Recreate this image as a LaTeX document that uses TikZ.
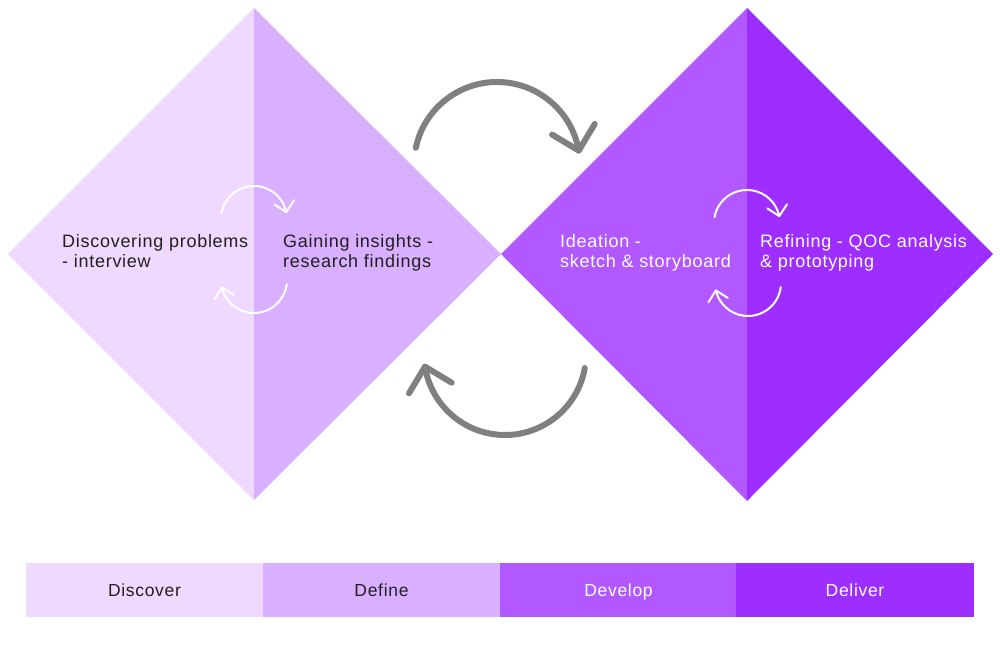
\documentclass[tikz,border=0pt]{standalone}
\usepackage{fontspec}
\setmainfont{Liberation Sans}[LetterSpace=4]
\definecolor{cdiscover}{HTML}{EFD9FF}
\definecolor{cdefine}{HTML}{D9B0FF}
\definecolor{cdevelop}{HTML}{B158FF}
\definecolor{cdeliver}{HTML}{9D2EFF}
\definecolor{ink}{HTML}{231F20}
\definecolor{arrowgrey}{HTML}{808080}
\begin{document}
\begin{tikzpicture}[x=1pt,y=1pt,
  lbl/.style={font=\fontsize{18}{20}\selectfont, align=left, inner sep=0pt, anchor=base west},
  barseg/.style={minimum width=237.5pt, minimum height=54pt, inner sep=0pt, text height=12.4pt, text depth=0pt, font=\fontsize{17.5}{20}\selectfont},
  bigarc/.style={draw=arrowgrey, line width=6pt, line cap=round, line join=round},
  smallarc/.style={draw=white, line width=2pt, line cap=round, line join=round}]
\useasboundingbox (0,0) rectangle (1000,-660);
% diamonds
\fill[cdiscover] (8,-254) -- (254,-8) -- (254,-500) -- cycle;
\fill[cdefine] (254,-8) -- (501,-254) -- (254,-500) -- cycle;
\fill[cdevelop] (501,-254) -- (747,-8) -- (747,-501) -- cycle;
\fill[cdeliver] (747,-8) -- (993,-254) -- (747,-501) -- cycle;
% texts (anchor = baseline of the last line)
\node[lbl, text=ink] (t1) at (62,-267) {Discovering problems\\- interview};
\node[lbl, text=ink] (t2) at (283,-267) {Gaining insights -\\research findings};
\node[lbl, text=white] (t3) at (560,-267) {Ideation -\\sketch \& storyboard};
\node[lbl, text=white] (t4) at (760,-267) {Refining - QOC analysis\\\& prototyping};
% centres of the small loops
\coordinate (lt) at (254,-219);
\coordinate (lb) at (254,-280);
\coordinate (rt) at (747,-223);
\coordinate (rb) at (748,-283);
\draw[smallarc] (lt) ++(170:33) arc[start angle=170, end angle=12, radius=33] coordinate (s1);
\draw[smallarc, shift={(s1)}, rotate=-78] (-10,10) -- (0,0) -- (-10,-10);
\draw[smallarc] (lb) ++(-7:33) arc[start angle=-7, end angle=-167, radius=33] coordinate (s2);
\draw[smallarc, shift={(s2)}, rotate=103] (-10,10) -- (0,0) -- (-10,-10);
\draw[smallarc] (rt) ++(170:33) arc[start angle=170, end angle=12, radius=33] coordinate (s3);
\draw[smallarc, shift={(s3)}, rotate=-78] (-10,10) -- (0,0) -- (-10,-10);
\draw[smallarc] (rb) ++(-7:33) arc[start angle=-7, end angle=-167, radius=33] coordinate (s4);
\draw[smallarc, shift={(s4)}, rotate=103] (-10,10) -- (0,0) -- (-10,-10);
% big grey loops
\coordinate (gt) at (497,-165);
\coordinate (gbc) at (505,-354);
\draw[bigarc] (gt) ++(168:83) arc[start angle=168, end angle=10, radius=83] coordinate (ga);
\draw[bigarc, shift={(ga)}, rotate=-76] (-22,22) -- (0,0) -- (-22,-22);
\draw[bigarc] (gbc) ++(-10:81) arc[start angle=-10, end angle=-171, radius=81] coordinate (gb);
\draw[bigarc, shift={(gb)}, rotate=104] (-22,22) -- (0,0) -- (-22,-22);
% bar
\node[barseg, fill=cdiscover, text=ink] (b1) at (144.5,-590) {Discover};
\node[barseg, fill=cdefine, text=ink] (b2) at (381.5,-590) {Define};
\node[barseg, fill=cdevelop, text=white] (b3) at (618.5,-590) {Develop};
\node[barseg, fill=cdeliver, text=white] (b4) at (855,-590) {Deliver};
\end{tikzpicture}
\end{document}
